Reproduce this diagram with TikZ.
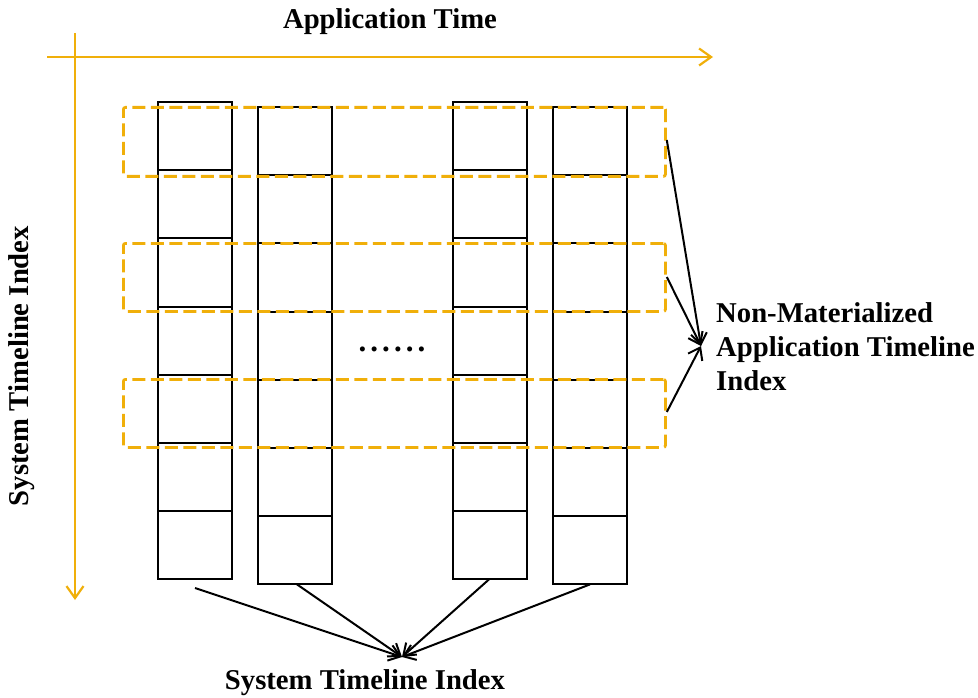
\documentclass[tikz,border=0pt]{standalone}
\usepackage{fontspec}
\setmainfont{Liberation Serif}
\usetikzlibrary{arrows.meta,calc}
\definecolor{axisorange}{RGB}{240,175,10}

\begin{document}
\begin{tikzpicture}[x=1pt,y=-1pt,
  cell/.style={draw=black,line width=2pt,minimum width=74pt,minimum height=68.2pt,
    inner sep=0pt,outer sep=0pt,anchor=north west},
  rowbox/.style={draw=axisorange,line width=2.8pt,dash pattern=on 13pt off 5.5pt,rounded corners=2pt,
    anchor=north west,inner sep=0pt,minimum width=542pt},
  axis/.style={draw=axisorange,line width=2.2pt,-{Straight Barb[length=12pt,width=17pt,line width=2.2pt]}},
  link/.style={draw=black,line width=2pt,-{Straight Barb[length=11pt,width=16pt,line width=2pt]}},
  label/.style={font=\bfseries\fontsize{28.7}{34}\selectfont,inner sep=0pt}]

\useasboundingbox (0,0) rectangle (978,698);

% axes
\coordinate (xstart) at (47,57);
\coordinate (xend) at (713,57);
\coordinate (ystart) at (75,33);
\coordinate (yend) at (75,600);
\draw[axis] (xstart) -- (xend);
\draw[axis] (ystart) -- (yend);

\node[label] (apptime) at (390,22) {Application Time};
\node[label,rotate=90] (systime) at (22,366) {System Timeline Index};

% timeline columns
\foreach \c/\x/\y in {1/158/102, 2/258/107, 3/453/102, 4/553/107}{
  \foreach \k in {1,...,7}{
    \node[cell] (c\c-\k) at (\x,{\y+68.2*(\k-1)}) {};
  }
}

\node[label,font=\bfseries\fontsize{31}{34}\selectfont\addfontfeature{LetterSpace=13}] (dots) at (392,349) {......};

% application timeline rows
\node[rowbox,minimum height=69pt] (r1) at (122,106) {};
\node[rowbox,minimum height=68pt] (r2) at (122,242) {};
\node[rowbox,minimum height=68pt] (r3) at (122,378) {};

% non-materialized index label
\node[label,align=left,anchor=west] (nmai) at (716,347) {Non-Materialized\\Application Timeline\\Index};
\coordinate (tipR) at (701,346);
\draw[link] (r1.east |- 0,140) -- (tipR);
\draw[link] (r2.east |- 0,277) -- (tipR);
\draw[link] (r3.east |- 0,412) -- (tipR);

% system timeline index label
\node[label] (sti) at (365,683) {System Timeline Index};
\coordinate (tipB) at (402,657);
\coordinate (s1) at (195,588);
\draw[link] (s1) -- (tipB);
\draw[link] ($(c2-7.south)+(2,0)$) -- (tipB);
\draw[link] ($(c3-7.south)+(-1,0)$) -- (tipB);
\draw[link] (c4-7.south) -- (tipB);
\end{tikzpicture}
\end{document}
